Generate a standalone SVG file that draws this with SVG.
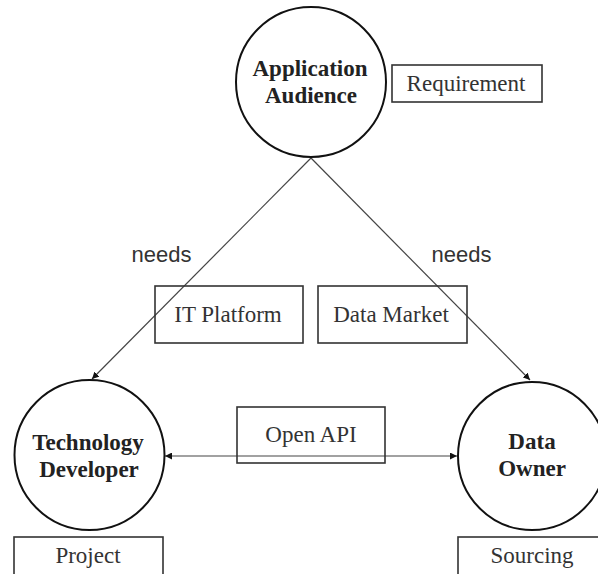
<svg xmlns="http://www.w3.org/2000/svg" width="598" height="574" viewBox="0 0 598 574">
<style>
.node{fill:#fff;stroke:#111;stroke-width:2}
.box{fill:#fff;stroke:#333;stroke-width:1.6}
.nt{font-family:"Liberation Serif","Times New Roman",serif;font-weight:bold;font-size:23px;fill:#222;text-anchor:middle}
.bt{font-family:"Liberation Serif","Times New Roman",serif;font-size:23px;fill:#333;text-anchor:middle}
.lbl{font-family:"Liberation Sans",Arial,sans-serif;font-size:22px;fill:#333;text-anchor:middle}
.edge{stroke:#444;stroke-width:1.2;fill:none}
</style>
<defs>
<marker id="ah" viewBox="0 0 10 10" refX="10" refY="5" markerWidth="7" markerHeight="7" markerUnits="userSpaceOnUse" orient="auto-start-reverse">
<path d="M0,0 L10,5 L0,10 z" fill="#111"/>
</marker>
</defs>
<g id="connectors">
<line class="edge" x1="311" y1="158" x2="92" y2="379" marker-end="url(#ah)"/>
<line class="edge" x1="311" y1="158" x2="530" y2="380" marker-end="url(#ah)"/>
<line class="edge" x1="165" y1="456" x2="457" y2="456" marker-start="url(#ah)" marker-end="url(#ah)"/>
<text class="lbl" x="161.5" y="262">needs</text>
<text class="lbl" x="461.5" y="262">needs</text>
</g>
<g id="application-audience">
<circle class="node" cx="311" cy="82" r="75"/>
<text class="nt" x="310" y="76">Application</text>
<text class="nt" x="311" y="103">Audience</text>
</g>
<g id="requirement">
<rect class="box" x="392" y="65" width="150" height="37"/>
<text class="bt" x="466" y="91">Requirement</text>
</g>
<g id="it-platform">
<rect class="box" x="155" y="286" width="148" height="57" fill-opacity="0"/>
<text class="bt" x="228" y="322">IT Platform</text>
</g>
<g id="data-market">
<rect class="box" x="318" y="286" width="149" height="57" fill-opacity="0"/>
<text class="bt" x="391" y="322">Data Market</text>
</g>
<g id="open-api">
<rect class="box" x="237" y="407" width="148" height="56" fill-opacity="0"/>
<text class="bt" x="311" y="442">Open API</text>
</g>
<g id="technology-developer">
<circle class="node" cx="89.5" cy="455" r="75"/>
<text class="nt" x="88" y="450">Technology</text>
<text class="nt" x="89" y="477">Developer</text>
</g>
<g id="data-owner">
<circle class="node" cx="532" cy="456" r="74"/>
<text class="nt" x="532" y="449">Data</text>
<text class="nt" x="532" y="476">Owner</text>
</g>
<g id="project">
<rect class="box" x="14" y="537" width="149" height="45"/>
<text class="bt" x="88" y="563">Project</text>
</g>
<g id="sourcing">
<rect class="box" x="458" y="537" width="150" height="45"/>
<text class="bt" x="532" y="563">Sourcing</text>
</g>
</svg>
